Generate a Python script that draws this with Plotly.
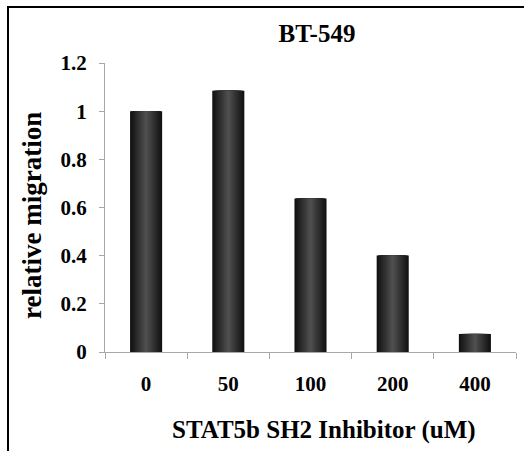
import plotly.graph_objects as go

# Relative migration of BT-549 cells at each inhibitor dose
doses = ["0", "50", "100", "200", "400"]
migration = [1.0, 1.085, 0.637, 0.401, 0.075]

y_ticks = [0, 0.2, 0.4, 0.6, 0.8, 1, 1.2]
y_tick_labels = ["0", "0.2", "0.4", "0.6", "0.8", "1", "1.2"]

FONT = "Liberation Serif"
BAR_WIDTH = 0.39
AXIS_COLOR = "#a8a8a8"

# Plot-area geometry in pixels
W, H = 524, 451
ML, MR, MT, MB = 105, 8, 63, 99
PW, PH = W - ML - MR, H - MT - MB
X0, Y0 = ML, H - MB


def px_x(p):
    return (p - X0) / PW


def px_y(p):
    return (Y0 - p) / PH


fig = go.Figure()

# Cylinder-style shading: overlay progressively narrower, lighter bars
edge = (18, 18, 18)
centre = (78, 78, 78)
layers = 14
for k in range(layers):
    t = k / (layers - 1)
    c = tuple(int(edge[i] + (centre[i] - edge[i]) * t) for i in range(3))
    fig.add_trace(go.Bar(
        x=doses,
        y=migration,
        width=BAR_WIDTH * (1 - 0.92 * t),
        marker=dict(color=f"rgb{c}", line=dict(width=0)),
        hoverinfo="skip" if k else None,
        showlegend=False,
    ))

tick_font = dict(size=21, family=FONT, color="black", weight="bold")

fig.update_layout(
    width=W,
    height=H,
    barmode="overlay",
    plot_bgcolor="white",
    paper_bgcolor="white",
    margin=dict(l=ML, r=MR, t=MT, b=MB),
    font=dict(family=FONT, color="black"),
    title=dict(
        text="BT-549",
        font=dict(size=25, family=FONT, color="black", weight="bold"),
        x=317 / W, xanchor="center",
        y=1 - 33 / H, yanchor="middle",
        yref="container",
    ),
    xaxis=dict(
        type="category",
        showline=True, linecolor=AXIS_COLOR, linewidth=1,
        ticks="outside", tickson="boundaries", ticklen=6,
        tickcolor=AXIS_COLOR,
        tickfont=tick_font,
        ticklabelstandoff=13,
        showgrid=False, zeroline=False,
    ),
    yaxis=dict(
        range=[0, 1.2],
        tickvals=y_ticks,
        ticktext=y_tick_labels,
        showline=True, linecolor=AXIS_COLOR, linewidth=1,
        ticks="outside", ticklen=5, tickcolor=AXIS_COLOR,
        tickfont=tick_font,
        ticklabelstandoff=8,
        showgrid=False, zeroline=False,
    ),
)

# Axis titles
fig.add_annotation(
    text="STAT5b SH2 Inhibitor (uM)",
    xref="paper", yref="paper", x=px_x(324), y=px_y(430),
    xanchor="center", yanchor="middle", showarrow=False,
    font=dict(size=25, family=FONT, color="black", weight="bold"),
)
fig.add_annotation(
    text="relative migration",
    xref="paper", yref="paper", x=px_x(32), y=px_y(216),
    xanchor="center", yanchor="middle", showarrow=False, textangle=-90,
    font=dict(size=27, family=FONT, color="black", weight="bold"),
)

# Figure frame: top and left edges only
fig.add_shape(
    type="path", xref="paper", yref="paper",
    path=f"M {px_x(8)},{px_y(460)} L {px_x(8)},{px_y(7)} L {px_x(530)},{px_y(7)}",
    line=dict(color="black", width=2),
)

fig.write_html("out.html")
